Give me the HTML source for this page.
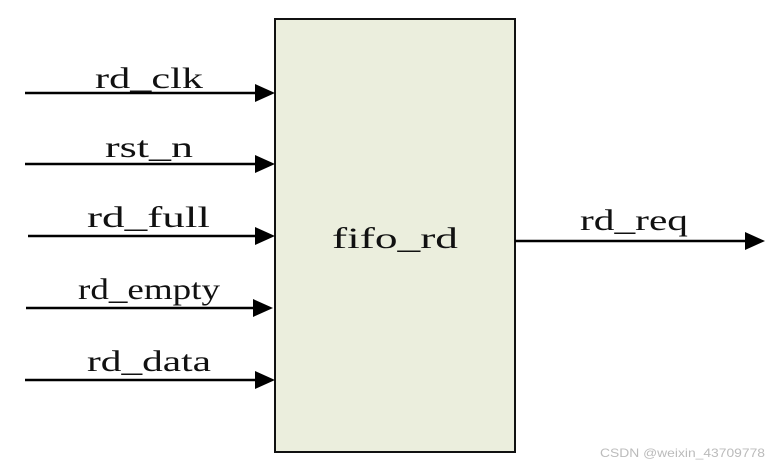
<!DOCTYPE html>
<html><head><style>body{margin:0;background:#fff}svg{display:block}</style></head><body>
<svg width="780" height="466" viewBox="0 0 780 466" xmlns="http://www.w3.org/2000/svg">
<rect x="275" y="19" width="240" height="433" fill="#ebeedd" stroke="#111" stroke-width="2"/>
<g stroke="#000" stroke-width="2.5">
<line x1="25" y1="93" x2="258" y2="93"/>
<line x1="25" y1="164" x2="258" y2="164"/>
<line x1="28" y1="236" x2="258" y2="236"/>
<line x1="26" y1="308" x2="256" y2="308"/>
<line x1="25" y1="380" x2="258" y2="380"/>
<line x1="515" y1="241" x2="748" y2="241"/>
</g>
<g fill="#000">
<polygon points="255,84 275,93 255,102"/>
<polygon points="255,155 275,164 255,173"/>
<polygon points="255,227 275,236 255,245"/>
<polygon points="253,299 273,308 253,317"/>
<polygon points="255,371 275,380 255,389"/>
<polygon points="745,232 765,241 745,250"/>
</g>
<g font-family="Liberation Serif, serif" font-size="30" fill="#111">
<text x="95" y="88" textLength="108" lengthAdjust="spacingAndGlyphs">rd_clk</text>
<text x="105" y="157" textLength="88" lengthAdjust="spacingAndGlyphs">rst_n</text>
<text x="87" y="227" textLength="123" lengthAdjust="spacingAndGlyphs">rd_full</text>
<text x="78" y="299" textLength="142" lengthAdjust="spacingAndGlyphs">rd_empty</text>
<text x="87" y="371" textLength="124" lengthAdjust="spacingAndGlyphs">rd_data</text>
<text x="332" y="248" textLength="126" lengthAdjust="spacingAndGlyphs">fifo_rd</text>
<text x="580" y="230" textLength="108" lengthAdjust="spacingAndGlyphs">rd_req</text>
</g>
<text x="600" y="457" font-family="Liberation Sans, sans-serif" font-size="12" fill="#bbb" textLength="165" lengthAdjust="spacingAndGlyphs">CSDN @weixin_43709778</text>
</svg>
</body></html>
